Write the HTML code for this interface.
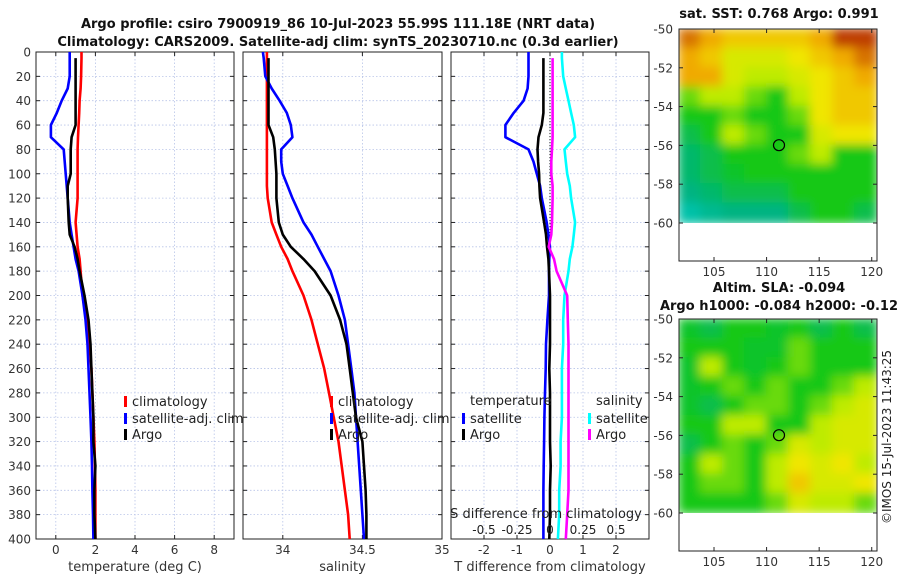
<!DOCTYPE html>
<html><head><meta charset="utf-8"><style>
html,body{margin:0;padding:0;background:#fff;width:900px;height:580px;overflow:hidden}
svg{display:block;font-family:"DejaVu Sans","Liberation Sans",sans-serif}
</style></head><body>
<svg id="fig" width="900" height="580" viewBox="0 0 900 580"></svg>
<script>
// ---- data ----
const depths=[0,5,20,30,40,50,60,70,80,90,100,110,120,140,150,160,170,180,200,220,240,260,280,300,320,340,360,380,400];
const tClim=[1.3,1.3,1.28,1.25,1.2,1.18,1.15,1.12,1.1,1.1,1.1,1.1,1.1,1.0,1.05,1.1,1.2,1.25,1.35,1.55,1.7,1.8,1.85,1.9,1.95,1.98,2.0,2.0,2.0];
const tSat=[0.7,0.7,0.7,0.6,0.3,0.05,-0.25,-0.25,0.4,0.45,0.5,0.55,0.6,0.7,0.8,0.9,1.0,1.15,1.35,1.5,1.6,1.65,1.7,1.75,1.8,1.83,1.85,1.88,1.9];
const tArgo=[null,1.0,1.0,1.0,1.0,1.0,1.0,0.8,0.75,0.75,0.75,0.6,0.6,0.65,0.7,0.95,1.1,1.2,1.45,1.65,1.75,1.8,1.85,1.9,1.9,2.0,1.95,1.95,2.0];
const sClim=[33.9,33.9,33.9,33.9,33.9,33.9,33.9,33.9,33.9,33.9,33.9,33.9,33.905,33.93,33.96,33.99,34.03,34.06,34.13,34.18,34.22,34.26,34.29,34.32,34.35,34.37,34.39,34.41,34.42];
const sSat=[33.875,33.88,33.89,33.93,33.98,34.025,34.05,34.06,33.99,33.99,34.0,34.03,34.06,34.13,34.18,34.22,34.26,34.3,34.35,34.39,34.41,34.43,34.45,34.46,34.47,34.48,34.49,34.5,34.51];
const sArgo=[null,33.91,33.91,33.91,33.91,33.91,33.91,33.94,33.95,33.955,33.96,33.96,33.96,33.975,34.0,34.05,34.13,34.2,34.3,34.36,34.4,34.42,34.44,34.46,34.5,34.51,34.52,34.525,34.525];
const dTSat=[-0.65,-0.65,-0.65,-0.68,-0.8,-1.1,-1.35,-1.35,-0.65,-0.5,-0.4,-0.3,-0.25,-0.1,-0.05,0,-0.02,-0.03,-0.03,-0.08,-0.12,-0.13,-0.15,-0.17,-0.18,-0.19,-0.2,-0.2,-0.2];
const dTArgo=[null,-0.2,-0.2,-0.2,-0.2,-0.2,-0.25,-0.35,-0.38,-0.36,-0.33,-0.32,-0.3,-0.18,-0.12,-0.09,-0.05,-0.03,0,0,0,-0.02,0,0,0,0.02,0,0,-0.02];
const dSSat=[0.09,0.09,0.1,0.12,0.14,0.16,0.18,0.19,0.11,0.12,0.13,0.15,0.16,0.19,0.18,0.17,0.15,0.14,0.11,0.1,0.1,0.09,0.09,0.09,0.08,0.08,0.07,0.07,0.06];
const dSArgo=[null,0.02,0.02,0.02,0.02,0.02,0.02,0.02,0.015,0.01,0.01,0.02,0.02,0.015,0.01,-0.01,0.03,0.05,0.13,0.135,0.14,0.14,0.14,0.14,0.14,0.14,0.14,0.13,0.12];
const depthTicks=[0,20,40,60,80,100,120,140,160,180,200,220,240,260,280,300,320,340,360,380,400];
const tTicks=[0,2,4,6,8];
const sTicks=[34,34.5,35];
const sTickLabels=["34","34.5","35"];
const dTTicks=[-2,-1,0,1,2];
const dSTicks=[-0.5,-0.25,0,0.25,0.5];
const dSTickLabels=["-0.5","-0.25","0","0.25","0.5"];
const latTicks=[-50,-52,-54,-56,-58,-60];
const lonTicks=[105,110,115,120];
const argoLon=111.18, argoLat=-55.99;
// heatmap fields: rows lat -50..-60 (1 deg), cols lon 101.7..120.5
const sstGrid=[
[5.5,5,4.5,4.5,4.5,4.5,5,6,6],
[5,4.5,3.5,3.5,3.5,4,4.5,5,5.5],
[5,5,3.5,3,3,3.5,4,4.5,5],
[2.5,3,3,2.5,2,3,4,4.5,4.5],
[2,2,2.5,2,2,2.5,4,4.5,4.5],
[1.5,2,3,2.5,2,2,3.5,4,4],
[1.2,1.5,2,2,2,2.5,3,2,2],
[1.2,1.5,1.8,2,2,2,2,2,2],
[1,1.2,1.5,1.5,1.5,2,2,2,2],
[0.5,0.8,1,1,1,1.5,2,2,1.5]];
const slaGrid=[
[1.8,1.5,2,2,1.8,2,1.5,2,1.5],
[2,2,2,1.8,1.8,2.5,2,2,2],
[1.8,3,2,1.8,2,2.5,2,2,2],
[1.8,2,2.5,2,2.5,2,2,2.5,3],
[1.8,1.5,2,2.5,2.5,2,2.5,3,3.5],
[2,2,3,3,2,2,3,3.5,3.5],
[1.5,2,2.5,2,2.5,3.5,3,3.5,3.5],
[2,3,2.5,2,3,4,3.5,4,3],
[2,2.5,2.5,2,3,4.5,3.5,3.5,4],
[2,2,2,2,2.5,3.5,3,3,2.5]];

// ---- helpers ----
const NS="http://www.w3.org/2000/svg";
const svg=document.getElementById('fig');
function el(tag,attrs,parent,text){const e=document.createElementNS(NS,tag);for(const k in attrs)e.setAttribute(k,attrs[k]);if(text!==undefined)e.textContent=text;(parent||svg).appendChild(e);return e;}
const Y0=52,Y1=539;
const yD=d=>Y0+(d/400)*(Y1-Y0);
function lin(d0,d1,p0,p1){return v=>p0+(v-d0)/(d1-d0)*(p1-p0);}

function panel(name,x0,x1,xs,ticks,labels,showY,xlabel,grid){
  const g=el('g',{},svg);
  
  
  depthTicks.forEach(d=>{el('line',{x1:x0,x2:x1,y1:yD(d),y2:yD(d),stroke:'#b8c4e8','stroke-width':0.8,'stroke-dasharray':'1.5,2'},g);});
  ticks.forEach(t=>{el('line',{x1:xs(t),x2:xs(t),y1:Y0,y2:Y1,stroke:'#b8c4e8','stroke-width':0.8,'stroke-dasharray':'1.5,2'},g);});
  el('rect',{x:x0,y:Y0,width:x1-x0,height:Y1-Y0,fill:'none',stroke:'#222','stroke-width':1},g);
  depthTicks.forEach(d=>{el('line',{x1:x0,x2:x0+4,y1:yD(d),y2:yD(d),stroke:'#222'},g);el('line',{x1:x1,x2:x1-4,y1:yD(d),y2:yD(d),stroke:'#222'},g);
    if(showY){const t=el('text',{x:x0-5,y:yD(d)+4.5,'text-anchor':'end','font-size':12,fill:'#333'},g,String(d));}});
  ticks.forEach((t,i)=>{el('line',{x1:xs(t),x2:xs(t),y1:Y1,y2:Y1-4,stroke:'#222'},g);el('line',{x1:xs(t),x2:xs(t),y1:Y0,y2:Y0+4,stroke:'#222'},g);
    const tx=el('text',{x:xs(t),y:Y1+15,'text-anchor':'middle','font-size':12,fill:'#333'},g,labels[i]);});
  const xl=el('text',{x:(x0+x1)/2,y:571,'text-anchor':'middle','font-size':13,fill:'#333'},g,xlabel);
  
  return g;
}
function series(g,name,vals,xs,color){
  let d='';vals.forEach((v,i)=>{if(v===null)return;d+=(d?'L':'M')+xs(v).toFixed(1)+','+yD(depths[i]).toFixed(1);});
  const p=el('path',{d:d,fill:'none',stroke:color,'stroke-width':2.6,'stroke-linejoin':'round'},g);
  
}
function legend(g,x,y,color,label,name){
  const l=el('g',{},g);
  el('rect',{x:x,y:y-9,width:3,height:11,fill:color},l);
  el('text',{x:x+8,y:y+1,'font-size':13,fill:'#222'},l,label);
}

// ---- titles ----
let t=el('text',{x:338,y:28,'text-anchor':'middle','font-size':13,'font-weight':'bold',fill:'#111'},svg,'Argo profile: csiro 7900919_86 10-Jul-2023 55.99S 111.18E (NRT data)');

t=el('text',{x:338,y:46,'text-anchor':'middle','font-size':13,'font-weight':'bold',fill:'#111'},svg,'Climatology: CARS2009. Satellite-adj clim: synTS_20230710.nc (0.3d earlier)');


// ---- panel 1 temperature ----
const xT=lin(-1,9,36,234);
const g1=panel('temperature-panel',36,234,xT,tTicks,tTicks.map(String),true,'temperature (deg C)');
series(g1,'temp-climatology-line',tClim,xT,'#f00');
series(g1,'temp-satellite-line',tSat,xT,'#00f');
series(g1,'temp-argo-line',tArgo,xT,'#000');
legend(g1,124,405,'#f00','climatology','legend-climatology');
legend(g1,124,422,'#00f','satellite-adj. clim','legend-satellite-adj');
legend(g1,124,438,'#000','Argo','legend-argo');

// ---- panel 2 salinity ----
const xS=lin(33.75,35,243,442);
const g2=panel('salinity-panel',243,442,xS,sTicks,sTickLabels,false,'salinity');
series(g2,'sal-climatology-line',sClim,xS,'#f00');
series(g2,'sal-satellite-line',sSat,xS,'#00f');
series(g2,'sal-argo-line',sArgo,xS,'#000');
legend(g2,330,405,'#f00','climatology','legend-climatology-sal');
legend(g2,330,422,'#00f','satellite-adj. clim','legend-satellite-adj-sal');
legend(g2,330,438,'#000','Argo','legend-argo-sal');

// ---- panel 3 differences ----
const xDT=lin(-3,3,451,649);
const xDS=v=>xDT(v*4);
const g3=panel('difference-panel',451,649,xDT,dTTicks,dTTicks.map(String),false,'T difference from climatology');
el('line',{x1:xDT(0),x2:xDT(0),y1:yD(5),y2:Y1,stroke:'#000','stroke-width':1,'stroke-dasharray':'1,2'},g3);
series(g3,'dT-satellite-line',dTSat,xDT,'#00f');
series(g3,'dT-argo-line',dTArgo,xDT,'#000');
series(g3,'dS-satellite-line',dSSat,xDS,'#0ff');
series(g3,'dS-argo-line',dSArgo,xDS,'#f0f');
t=el('text',{x:470,y:405,'font-size':13,fill:'#222'},g3,'temperature');
legend(g3,462,422,'#00f','satellite','legend-t-satellite');
legend(g3,462,438,'#000','Argo','legend-t-argo');
t=el('text',{x:596,y:405,'font-size':13,fill:'#222'},g3,'salinity');
legend(g3,588,422,'#0ff','satellite','legend-s-satellite');
legend(g3,588,438,'#f0f','Argo','legend-s-argo');
t=el('text',{x:546,y:518,'text-anchor':'middle','font-size':13,fill:'#222'},g3,'S difference from climatology');
dSTicks.forEach((v,i)=>{const s=el('text',{x:xDS(v),y:534,'text-anchor':'middle','font-size':12,fill:'#222'},g3,dSTickLabels[i]);});

// ---- maps ----
const defs=el('defs',{});
el('clipPath',{id:'c1'},defs);
const stops=[[0,[0,205,205]],[1,[0,180,130]],[2,[20,200,20]],[3,[190,235,0]],[4,[240,230,0]],[5,[240,170,0]],[6,[190,60,0]]];
function cmap(v){v=Math.max(0,Math.min(6,v));const i=Math.min(5,Math.floor(v));const f=v-i;const a=stops[i][1],b=stops[i+1][1];
  return 'rgb('+a.map((c,k)=>Math.round(c+(b[k]-c)*f)).join(',')+')';}
function map(name,grid,top,title1,title2){
  const L=679,R=877,lon=lin(101.67,120.5,L,R),lat=lin(-50,-60,top,top+194),B=top+232;
  const g=el('g',{},svg);
  const fid='blur'+name;const f=el('filter',{id:fid,x:'-5%',y:'-5%',width:'110%',height:'110%'},defs);el('feGaussianBlur',{stdDeviation:5},f);
  const cid='clip'+name;const cp=el('clipPath',{id:cid},defs);el('rect',{x:L,y:top,width:R-L,height:lat(-60)-top},cp);
  const cg=el('g',{'clip-path':'url(#'+cid+')'},g);
  const hg=el('g',{filter:'url(#'+fid+')'},cg);
  const nr=grid.length,nc=grid[0].length,cw=(R-L)/nc,rh=(lat(-60)-top)/nr;
  grid.forEach((row,r)=>row.forEach((v,c)=>{const cell=el('rect',{x:L+c*cw-1,y:top+r*rh-1,width:cw+2,height:rh+2,fill:cmap(v)},hg);
    }));
  el('rect',{x:L,y:top,width:R-L,height:B-top,fill:'none',stroke:'#222'},g);
  latTicks.forEach(v=>{el('line',{x1:L,x2:L+4,y1:lat(v),y2:lat(v),stroke:'#222'},g);el('line',{x1:R,x2:R-4,y1:lat(v),y2:lat(v),stroke:'#222'},g);
    const s=el('text',{x:L-6,y:lat(v)+4.5,'text-anchor':'end','font-size':12,fill:'#333'},g,String(v));});
  lonTicks.forEach(v=>{el('line',{x1:lon(v),x2:lon(v),y1:B,y2:B-4,stroke:'#222'},g);el('line',{x1:lon(v),x2:lon(v),y1:top,y2:top+4,stroke:'#222'},g);
    const s=el('text',{x:lon(v),y:B+15,'text-anchor':'middle','font-size':12,fill:'#333'},g,String(v));});
  const m=el('circle',{cx:lon(argoLon),cy:lat(argoLat),r:5.5,fill:'none',stroke:'#000','stroke-width':1.2},g);
  
  let y=top-(title2?27:11);
  const a=el('text',{x:779,y:y,'text-anchor':'middle','font-size':13,'font-weight':'bold',fill:'#111'},g,title1);
  if(title2){const b=el('text',{x:779,y:y+18,'text-anchor':'middle','font-size':13,'font-weight':'bold',fill:'#111'},g,title2);}
}
map('sst-map',sstGrid,29,'sat. SST: 0.768 Argo: 0.991');
map('sla-map',slaGrid,319,'Altim. SLA: -0.094','Argo h1000: -0.084 h2000: -0.12');
t=el('text',{x:0,y:0,'font-size':12,fill:'#222','text-anchor':'middle',transform:'translate(891,437) rotate(-90)'},svg,'©IMOS 15-Jul-2023 11:43:25');

</script>
</body></html>
